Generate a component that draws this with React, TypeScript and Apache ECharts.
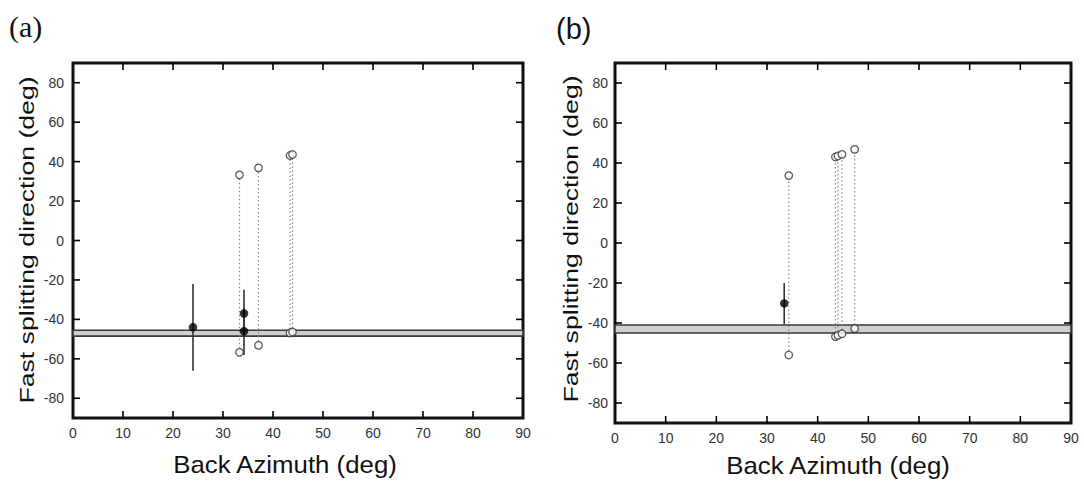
import React, { useEffect, useRef } from "react";
import * as echarts from "echarts";

// ---- Panel (a) ----
const aFilledX = [24, 34.2, 34.2];
const aFilledY = [-44, -37, -46];
const aErrLow = [-66, -49, -58];
const aErrHigh = [-22, -25, -34];
const aNullX = [33.3, 37.1, 43.4, 43.9];
const aNullUpper = [33.3, 36.8, 43.1, 43.6];
const aNullLower = [-56.7, -53.2, -46.9, -46.4];
const aBand = [-48.5, -45.5];

// ---- Panel (b) ----
const bFilledX = [33.4];
const bFilledY = [-30.2];
const bErrLow = [-40.5];
const bErrHigh = [-20];
const bNullX = [34.3, 43.5, 44.0, 44.8, 47.3];
const bNullUpper = [33.7, 43.0, 43.5, 44.3, 46.8];
const bNullLower = [-56, -46.8, -46.2, -45.4, -42.8];
const bBand = [-45, -41];

const xRange = [0, 90];
const yRange = [-90, 90];
const xTickVals = [10, 20, 30, 40, 50, 60, 70, 80];
const yTickVals = [-80, -60, -40, -20, 0, 20, 40, 60, 80];
const panelLabels = ["(a)", "(b)"];
const xTitle = "Back Azimuth (deg)";
const yTitle = "Fast splitting direction (deg)";

const SANS = "'Liberation Sans', Arial, sans-serif";
const SERIF = "'Liberation Serif', 'Times New Roman', serif";
const TICK_LEN = 7;

function segRender(color: string, width: number, dash?: number[]) {
  return (params: any, api: any) => {
    const x = api.value(0);
    const p1 = api.coord([x, api.value(1)]);
    const p2 = api.coord([x, api.value(2)]);
    return {
      type: "line",
      shape: { x1: p1[0], y1: p1[1], x2: p2[0], y2: p2[1] },
      style: { stroke: color, lineWidth: width, lineDash: dash || null, fill: null },
    };
  };
}

function tickRender(params: any, api: any) {
  const dir = api.value(0); // 0 = x tick, 1 = y tick
  const v = api.value(1);
  const st = { stroke: "#000", lineWidth: 1.6, fill: null };
  if (dir === 0) {
    const b = api.coord([v, yRange[0]]);
    const t = api.coord([v, yRange[1]]);
    return {
      type: "group",
      children: [
        { type: "line", shape: { x1: b[0], y1: b[1], x2: b[0], y2: b[1] - TICK_LEN }, style: st },
        { type: "line", shape: { x1: t[0], y1: t[1], x2: t[0], y2: t[1] + TICK_LEN }, style: st },
      ],
    };
  }
  const l = api.coord([xRange[0], v]);
  const r = api.coord([xRange[1], v]);
  return {
    type: "group",
    children: [
      { type: "line", shape: { x1: l[0], y1: l[1], x2: l[0] + TICK_LEN, y2: l[1] }, style: st },
      { type: "line", shape: { x1: r[0], y1: r[1], x2: r[0] - TICK_LEN, y2: r[1] }, style: st },
    ],
  };
}

function buildPanel(
  idx: number,
  filledX: number[],
  filledY: number[],
  errLow: number[],
  errHigh: number[],
  nullX: number[],
  nullUpper: number[],
  nullLower: number[],
  band: number[]
) {
  const ax = { xAxisIndex: idx, yAxisIndex: idx };
  const openPts: number[][] = [];
  nullX.forEach((x, i) => {
    openPts.push([x, nullUpper[i]]);
    openPts.push([x, nullLower[i]]);
  });
  return [
    {
      type: "line",
      ...ax,
      data: [],
      silent: true,
      markArea: {
        silent: true,
        itemStyle: { color: "#cfcfcf", borderColor: "#3a3a3a", borderWidth: 1.6 },
        data: [[{ yAxis: band[0] }, { yAxis: band[1] }]],
      },
    },
    {
      type: "custom",
      ...ax,
      silent: true,
      clip: false,
      renderItem: tickRender,
      encode: { x: 2, y: 2 },
      data: [...xTickVals.map((v) => [0, v, 45]), ...yTickVals.map((v) => [1, v, 45])],
      z: 8,
    },
    {
      type: "custom",
      ...ax,
      silent: true,
      renderItem: segRender("#8a8a8a", 1.2, [1.5, 2.5]),
      encode: { x: 0, y: [1, 2] },
      data: nullX.map((x, i) => [x, nullLower[i], nullUpper[i]]),
      z: 3,
    },
    {
      type: "custom",
      ...ax,
      silent: true,
      renderItem: segRender("#333", 1.6),
      encode: { x: 0, y: [1, 2] },
      data: filledX.map((x, i) => [x, errLow[i], errHigh[i]]),
      z: 4,
    },
    {
      type: "scatter",
      ...ax,
      symbol: "circle",
      symbolSize: 7.5,
      itemStyle: { color: "#ffffff", borderColor: "#333", borderWidth: 1.3 },
      data: openPts,
      z: 5,
    },
    {
      type: "scatter",
      ...ax,
      symbol: "circle",
      symbolSize: 8.5,
      itemStyle: { color: "#000" },
      data: filledX.map((x, i) => [x, filledY[i]]),
      z: 6,
    },
  ];
}

function xAxisFor(gridIndex: number) {
  return {
    type: "value",
    gridIndex,
    min: xRange[0],
    max: xRange[1],
    interval: 10,
    position: "bottom",
    axisLine: { show: false, onZero: false },
    axisTick: { show: false },
    splitLine: { show: false },
    axisLabel: { color: "#333", fontSize: 14, fontFamily: SANS, margin: 8 },
  };
}

function yAxisFor(gridIndex: number, margin: number) {
  return {
    type: "value",
    gridIndex,
    min: yRange[0],
    max: yRange[1],
    splitNumber: 9,
    position: "left",
    axisLine: { show: false, onZero: false },
    axisTick: { show: false },
    splitLine: { show: false },
    axisLabel: {
      color: "#333",
      fontSize: 14,
      fontFamily: SANS,
      margin,
      showMinLabel: false,
      showMaxLabel: false,
    },
  };
}

function titleTexts(xCenter: number, xTitleY: number, yTitleX: number, yTitleY: number) {
  return [
    {
      type: "text",
      x: xCenter,
      y: xTitleY,
      scaleX: 1.075,
      style: {
        text: xTitle,
        fontSize: 24,
        fontFamily: SANS,
        fill: "#111",
        align: "center",
        verticalAlign: "middle",
      },
    },
    {
      type: "text",
      x: yTitleX,
      y: yTitleY,
      rotation: Math.PI / 2,
      scaleX: 1.3,
      style: {
        text: yTitle,
        fontSize: 20.5,
        fontFamily: SANS,
        fill: "#111",
        align: "center",
        verticalAlign: "middle",
      },
    },
  ];
}

export default function App() {
  const ref = useRef<HTMLDivElement>(null);
  useEffect(() => {
    if (!ref.current) return;
    const chart = echarts.init(ref.current, null, { renderer: "svg" });
    const option: any = {
      animation: false,
      backgroundColor: "#fff",
      grid: [
        {
          left: 73,
          top: 63,
          width: 450,
          height: 355,
          show: true,
          borderColor: "#111",
          borderWidth: 3,
          backgroundColor: "transparent",
          outerBoundsMode: "none",
        },
        {
          left: 615,
          top: 63,
          width: 456,
          height: 360,
          show: true,
          borderColor: "#111",
          borderWidth: 3,
          backgroundColor: "transparent",
          outerBoundsMode: "none",
        },
      ],
      xAxis: [xAxisFor(0), xAxisFor(1)],
      yAxis: [yAxisFor(0, 9), yAxisFor(1, 7)],
      series: [
        ...buildPanel(0, aFilledX, aFilledY, aErrLow, aErrHigh, aNullX, aNullUpper, aNullLower, aBand),
        ...buildPanel(1, bFilledX, bFilledY, bErrLow, bErrHigh, bNullX, bNullUpper, bNullLower, bBand),
      ],
      graphic: [
        {
          type: "text",
          left: 9,
          top: 11,
          style: { text: panelLabels[0], fontSize: 30, fontFamily: SERIF, fill: "#111" },
        },
        {
          type: "text",
          left: 556,
          top: 14,
          style: { text: panelLabels[1], fontSize: 29, fontFamily: SANS, fill: "#111" },
        },
        ...titleTexts(285, 464, 27, 240),
        ...titleTexts(838, 465, 571, 239),
      ],
    };
    chart.setOption(option);
    return () => chart.dispose();
  }, []);
  return (
    <div
      ref={ref}
      style={{ position: "fixed", left: 0, top: 0, width: 1084, height: 483, background: "#fff" }}
    />
  );
}
